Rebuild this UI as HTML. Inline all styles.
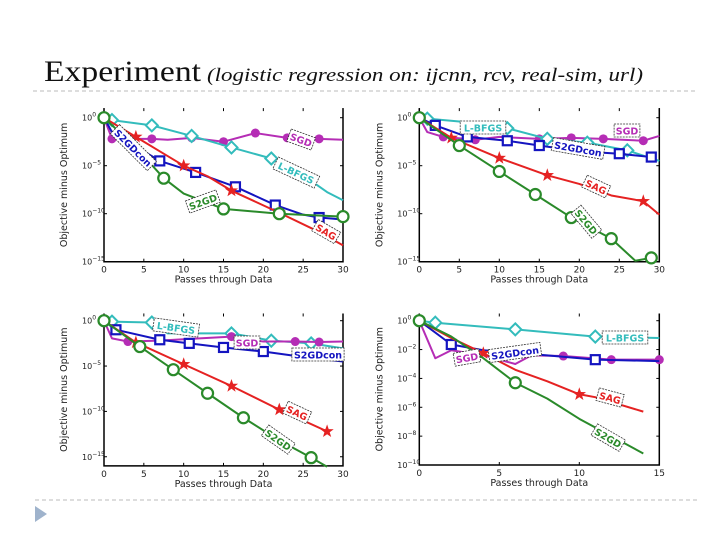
<!DOCTYPE html>
<html><head><meta charset="utf-8"><style>
html,body{margin:0;padding:0;background:#fff;}
svg{display:block;font-family:"DejaVu Sans","Liberation Sans",sans-serif;}
</style></head><body>
<svg id="s" width="720" height="540" viewBox="0 0 720 540" xmlns="http://www.w3.org/2000/svg">
<text x="44" y="81" font-family="Liberation Serif,serif" font-size="30" fill="#111" textLength="157" lengthAdjust="spacingAndGlyphs">Experiment</text>
<text x="207" y="81" font-family="Liberation Serif,serif" font-style="italic" font-size="19" fill="#111" textLength="436" lengthAdjust="spacingAndGlyphs">(logistic regression on: ijcnn, rcv, real-sim, url)</text>
<line x1="33" y1="91" x2="697" y2="91" stroke="#bbb" stroke-dasharray="4,3"/>
<line x1="35" y1="500" x2="700" y2="500" stroke="#bbb" stroke-dasharray="4,3"/>
<polygon points="35,506 47,514 35,522" fill="#9fb3cc"/>
<g id="charts"></g>
</svg>
<script>
// ---- data (x values, log10 y values) ----
const p1_SGD_x=[0,1,5,6,8,11,15,19,23,27,30];
const p1_SGD_y=[0,-2.2,-2.2,-2.2,-2.3,-2.1,-2.5,-1.6,-2.1,-2.2,-2.3];
const p1_LBFGS_x=[0,1,6,11,16,21,25,28,30];
const p1_LBFGS_y=[0,-0.25,-0.8,-1.9,-3.1,-4.25,-6,-7.75,-8.6];
const p1_S2GDcon_x=[0,1,5,7,11.5,16.5,21.5,25,27,30];
const p1_S2GDcon_y=[0,-1.5,-3.5,-4.5,-5.7,-7.2,-9.1,-10.1,-10.4,-10.6];
const p1_SAG_x=[0,4,7,10,13,16,22,27,30];
const p1_SAG_y=[0,-2,-3.5,-5,-6.1,-7.6,-9.9,-11.9,-13.3];
const p1_S2GD_x=[0,4,7.5,10,15,22,30];
const p1_S2GD_y=[0,-3.1,-6.3,-7.9,-9.5,-10,-10.3];

const p2_SGD_x=[0,1,3,7,10,15,19,23,28,30];
const p2_SGD_y=[0,-1.5,-2,-2.3,-2,-2.2,-2.1,-2.2,-2.4,-1.9];
const p2_LBFGS_x=[0,1,5,11,16,21,26,30];
const p2_LBFGS_y=[0,-0.1,-0.4,-1.1,-2.2,-2.6,-3.4,-4.5];
const p2_S2GDcon_x=[0,2,6,11,15,20,25,29];
const p2_S2GDcon_y=[0,-0.8,-2,-2.4,-2.9,-3.5,-3.75,-4.1];
const p2_SAG_x=[0,4,10,16,20,24,28,30];
const p2_SAG_y=[0,-2.1,-4.2,-6,-6.9,-8.1,-8.7,-10.1];
const p2_S2GD_x=[0,5,10,14.5,19,24,27,29];
const p2_S2GD_y=[0,-2.9,-5.6,-8,-10.4,-12.6,-14.9,-14.6];

const p3_LBFGS_x=[0,1,6,8,16,21,26,30];
const p3_LBFGS_y=[0,-0.1,-0.2,-1.4,-1.4,-2.2,-2.5,-3.05];
const p3_SGD_x=[0,1,3,7,10,16,20,24,27,30];
const p3_SGD_y=[0,-1.95,-2.3,-2.2,-2.05,-1.75,-2.3,-2.3,-2.35,-2.3];
const p3_S2GDcon_x=[0,1.5,7,10.7,15,20,25,30];
const p3_S2GDcon_y=[0,-1,-2.1,-2.5,-2.95,-3.4,-4,-4.5];
const p3_SAG_x=[0,4,10,16,22,28];
const p3_SAG_y=[0,-2.4,-4.8,-7.2,-9.8,-12.2];
const p3_S2GD_x=[0,4.5,8.7,13,17.5,22,26,28];
const p3_S2GD_y=[0,-2.85,-5.4,-8,-10.7,-13.2,-15.1,-16.1];

const p4_LBFGS_x=[0,1,6,11,15];
const p4_LBFGS_y=[0,-0.14,-0.6,-1.1,-1.2];
const p4_SGD_x=[0,1,2,4,6,7,9,12,15];
const p4_SGD_y=[0,-2.6,-2.05,-2.4,-3.0,-2.4,-2.45,-2.7,-2.7];
const p4_S2GDcon_x=[0,2,4,8,11,15];
const p4_S2GDcon_y=[0,-1.65,-2.05,-2.4,-2.7,-2.8];
const p4_SAG_x=[0,2,4,6,8,10,11,14];
const p4_SAG_y=[0,-1.2,-2.25,-3.4,-4.2,-5.1,-5.3,-6.3];
const p4_S2GD_x=[0,2,4,6,8,10,12,14];
const p4_S2GD_y=[0,-1.1,-2.6,-4.3,-5.4,-6.8,-8,-9.2];

const xticks30=[0,5,10,15,20,25,30];
const xticks15=[0,5,10,15];
const yticks15=[0,-5,-10,-15];
const yticks10=[0,-2,-4,-6,-8,-10];

const NS="http://www.w3.org/2000/svg";
const root=document.getElementById('charts');
function mk(tag,attrs,parent){const e=document.createElementNS(NS,tag);for(const k in attrs)e.setAttribute(k,attrs[k]);(parent||root).appendChild(e);return e;}
const COL={SGD:"#b52db5",LBFGS:"#33bcbc",S2GDcon:"#1414c0",SAG:"#e52222",S2GD:"#2a8a2a"};

function plot(cfg){
  const g=mk('g',{});
  
  
  const X=v=>cfg.x0+(v/cfg.xmax)*(cfg.x1-cfg.x0);
  const Y=v=>cfg.y0-v*cfg.dec;
  const top=Y(cfg.ytop),bot=Y(cfg.ybot);
  // axes
  const ax=mk('path',{d:`M${cfg.x0},${top}V${bot}H${cfg.x1}V${top}`,fill:'none',stroke:'#000','stroke-width':1.5},g);
  
  cfg.xt.forEach(t=>{
    mk('line',{x1:X(t),x2:X(t),y1:bot,y2:bot-3,stroke:'#000'},g);
    mk('line',{x1:X(t),x2:X(t),y1:top,y2:top+3,stroke:'#000'},g);
    const tx=mk('text',{x:X(t),y:bot+11,'font-size':9,'text-anchor':'middle',fill:'#222'},g);
    tx.textContent=t;
    
  });
  cfg.yt.forEach(t=>{
    mk('line',{x1:cfg.x0,x2:cfg.x0+3,y1:Y(t),y2:Y(t),stroke:'#000'},g);
    mk('line',{x1:cfg.x1,x2:cfg.x1-3,y1:Y(t),y2:Y(t),stroke:'#000'},g);
    const tx=mk('text',{x:cfg.x0-22,y:Y(t)+3,'font-size':8,fill:'#222'},g);
    tx.textContent='10';
    
    const sp=mk('tspan',{dy:-4,'font-size':6},tx);sp.textContent=String(t).replace('-','\u2212');
  });
  const xl=mk('text',{x:(cfg.x0+cfg.x1)/2,y:bot+21,'font-size':9.5,'text-anchor':'middle',fill:'#222'},g);
  xl.textContent='Passes through Data';
  
  const yc=(top+bot)/2;
  const yl=mk('text',{x:cfg.x0-37,y:yc,'font-size':9.5,'text-anchor':'middle',fill:'#222',transform:`rotate(-90 ${cfg.x0-37} ${yc})`},g);
  yl.textContent='Objective minus Optimum';
  
  // series
  cfg.series.forEach(s=>{
    const c=COL[s.k];
    const pts=s.x.map((v,i)=>X(v)+','+Y(s.y[i])).join(' ');
    const pl=mk('polyline',{points:pts,fill:'none',stroke:c,'stroke-width':2,'stroke-linejoin':'round'},g);
    
    s.m.forEach(i=>{
      const px=X(s.x[i]),py=Y(s.y[i]);let e;
      if(s.k==='S2GD')e=mk('circle',{cx:px,cy:py,r:5.5,fill:'#fff',stroke:c,'stroke-width':2.2},g);
      else if(s.k==='LBFGS')e=mk('polygon',{points:`${px},${py-6} ${px+6},${py} ${px},${py+6} ${px-6},${py}`,fill:'#fff',stroke:c,'stroke-width':2},g);
      else if(s.k==='S2GDcon')e=mk('rect',{x:px-4.5,y:py-4.5,width:9,height:9,fill:'#fff',stroke:c,'stroke-width':2.2},g);
      else if(s.k==='SAG'){let p=[];for(let j=0;j<10;j++){const r=j%2?2.8:7,a=-Math.PI/2+j*Math.PI/5;p.push((px+r*Math.cos(a)).toFixed(1)+','+(py+r*Math.sin(a)).toFixed(1));}e=mk('polygon',{points:p.join(' '),fill:c},g);}
      else e=mk('circle',{cx:px,cy:py,r:4.5,fill:c},g);
      
    });
  });
  cfg.labels.forEach(l=>{
    const lg=mk('g',{transform:`translate(${l.x},${l.y}) rotate(${l.r})`},g);
    
    const w=l.t.length*6.6+6;
    mk('rect',{x:-w/2,y:-7,width:w,height:13,fill:'#fff',stroke:'#333','stroke-width':0.8,'stroke-dasharray':'2,1'},lg);
    const t=mk('text',{x:0,y:3.5,'font-size':9.5,'font-weight':'bold','text-anchor':'middle',fill:COL[l.k]},lg);
    t.textContent=l.t;
  });
}
plot({name:'chart-ijcnn',x0:104,x1:343,xmax:30,y0:117.7,dec:9.6,ytop:1,ybot:-15,xt:xticks30,yt:yticks15,
 series:[{k:'SGD',x:p1_SGD_x,y:p1_SGD_y,m:[1,3,5,6,7,8,9]},{k:'LBFGS',x:p1_LBFGS_x,y:p1_LBFGS_y,m:[1,2,3,4,5]},
 {k:'S2GDcon',x:p1_S2GDcon_x,y:p1_S2GDcon_y,m:[3,4,5,6,8]},{k:'SAG',x:p1_SAG_x,y:p1_SAG_y,m:[1,3,5,6]},{k:'S2GD',x:p1_S2GD_x,y:p1_S2GD_y,m:[0,2,4,5,6]}],
 labels:[{k:'SGD',t:'SGD',x:301,y:140,r:20},{k:'S2GDcon',t:'S2GDcon',x:133,y:148,r:45},{k:'LBFGS',t:'L-BFGS',x:296,y:173,r:25},{k:'S2GD',t:'S2GD',x:203,y:202,r:-20},{k:'SAG',t:'SAG',x:326,y:232,r:30}]});
plot({name:'chart-rcv',x0:419.3,x1:659.3,xmax:30,y0:117.7,dec:9.6,ytop:1,ybot:-15,xt:xticks30,yt:yticks15,
 series:[{k:'SGD',x:p2_SGD_x,y:p2_SGD_y,m:[2,3,5,6,7,8]},{k:'LBFGS',x:p2_LBFGS_x,y:p2_LBFGS_y,m:[1,3,4,5,6]},
 {k:'S2GDcon',x:p2_S2GDcon_x,y:p2_S2GDcon_y,m:[1,2,3,4,6,7]},{k:'SAG',x:p2_SAG_x,y:p2_SAG_y,m:[1,2,3,6]},{k:'S2GD',x:p2_S2GD_x,y:p2_S2GD_y,m:[0,1,2,3,4,5,7]}],
 labels:[{k:'LBFGS',t:'L-BFGS',x:483,y:128,r:0},{k:'SGD',t:'SGD',x:627,y:131,r:0},{k:'S2GDcon',t:'S2GDcon',x:578,y:149,r:10},{k:'SAG',t:'SAG',x:596,y:187,r:25},{k:'S2GD',t:'S2GD',x:586,y:222,r:50}]});
plot({name:'chart-real-sim',x0:104,x1:343,xmax:30,y0:320.7,dec:9.07,ytop:0.8,ybot:-16,xt:xticks30,yt:yticks15,
 series:[{k:'LBFGS',x:p3_LBFGS_x,y:p3_LBFGS_y,m:[1,2,4,5,6]},{k:'SGD',x:p3_SGD_x,y:p3_SGD_y,m:[2,3,5,7,8]},
 {k:'S2GDcon',x:p3_S2GDcon_x,y:p3_S2GDcon_y,m:[1,2,3,4,5]},{k:'SAG',x:p3_SAG_x,y:p3_SAG_y,m:[1,2,3,4,5]},{k:'S2GD',x:p3_S2GD_x,y:p3_S2GD_y,m:[0,1,2,3,4,6]}],
 labels:[{k:'LBFGS',t:'L-BFGS',x:176,y:328,r:8},{k:'SGD',t:'SGD',x:247,y:343,r:0},{k:'S2GDcon',t:'S2GDcon',x:318,y:355,r:0},{k:'SAG',t:'SAG',x:297,y:413,r:25},{k:'S2GD',t:'S2GD',x:278,y:440,r:35}]});
plot({name:'chart-url',x0:419.3,x1:659.3,xmax:15,y0:320.7,dec:14.43,ytop:0.5,ybot:-10,xt:xticks15,yt:yticks10,
 series:[{k:'LBFGS',x:p4_LBFGS_x,y:p4_LBFGS_y,m:[1,2,3]},{k:'SGD',x:p4_SGD_x,y:p4_SGD_y,m:[6,7,8]},
 {k:'S2GDcon',x:p4_S2GDcon_x,y:p4_S2GDcon_y,m:[1,4]},{k:'SAG',x:p4_SAG_x,y:p4_SAG_y,m:[2,5]},{k:'S2GD',x:p4_S2GD_x,y:p4_S2GD_y,m:[0,3]}],
 labels:[{k:'LBFGS',t:'L-BFGS',x:625,y:338,r:0},{k:'S2GDcon',t:'S2GDcon',x:515,y:353,r:-8},{k:'SGD',t:'SGD',x:467,y:358,r:-10},{k:'SAG',t:'SAG',x:610,y:398,r:15},{k:'S2GD',t:'S2GD',x:608,y:438,r:30}]});
</script>
</body></html>
